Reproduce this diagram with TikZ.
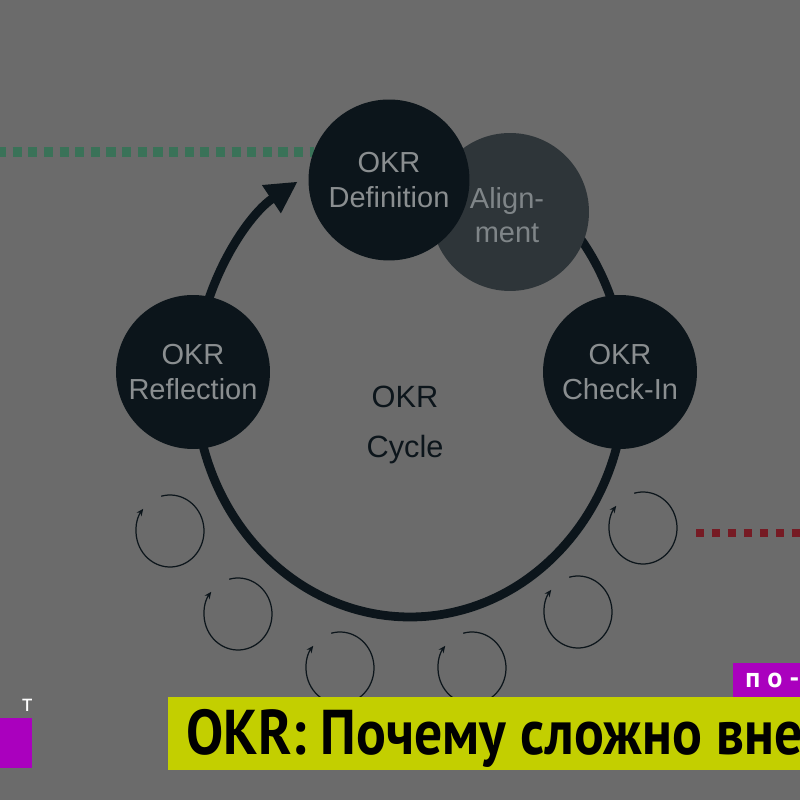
\documentclass[tikz,border=0pt]{standalone}
\usepackage{fontspec}
\setmainfont{Liberation Sans}
\newfontfamily\ptbold{PT Sans}
\usetikzlibrary{arrows.meta}
\definecolor{bg}{HTML}{6B6B6B}
\definecolor{darkc}{HTML}{0C151B}
\definecolor{alignc}{HTML}{2E3539}
\definecolor{ltext}{HTML}{8A8E90}
\definecolor{atext}{HTML}{7F8588}
\definecolor{greendot}{HTML}{3A7258}
\definecolor{reddot}{HTML}{761B24}
\definecolor{lime}{HTML}{C3CF00}
\definecolor{magen}{HTML}{AA00BE}
\tikzset{
  bigcirc/.style={circle, fill=darkc, text=ltext, inner sep=0pt, align=center, font=\fontsize{16.5}{19.5}\selectfont},
  loopc/.style={draw=darkc, line width=0.7pt, -{Stealth[length=4pt,width=3.5pt]}},
}
\begin{document}
\begin{tikzpicture}[x=0.02cm,y=0.02cm]
\useasboundingbox (0,0) rectangle (800,800);
\clip (0,0) rectangle (800,800);
\fill[bg] (0,0) rectangle (800,800);
% dotted lines
\coordinate (g0) at (-3,648);
\coordinate (g1) at (314,648);
\draw[greendot, line width=5.2pt, dash pattern=on 5.2pt off 3.7pt] (g0) -- (g1);
\coordinate (r0) at (696,267);
\coordinate (r1) at (805,267);
\draw[reddot, line width=4.4pt, dash pattern=on 4.4pt off 4.7pt] (r0) -- (r1);
% ring
\coordinate (ringc) at (410,418);
\draw[darkc, line width=5pt, -{Triangle[length=18pt,width=18pt]}]
  (ringc) ++(45:215 and 235) arc[start angle=45, end angle=-238.5, x radius=215, y radius=235];
% big circles
\node[circle, fill=alignc, minimum size=3.16cm, inner sep=0pt] (align) at (510,588) {};
\node[text=atext, align=center, font=\fontsize{16.5}{19.5}\selectfont] (aligntxt) at (507,585) {Align-\\ment};
\node[bigcirc, minimum size=3.22cm] (def) at (389,620) {OKR\\Definition};
\node[bigcirc, minimum size=3.08cm] (refl) at (193,428) {OKR\\Reflection};
\node[bigcirc, minimum size=3.08cm] (check) at (620,428) {OKR\\Check-In};
\node[text=darkc, align=center, font=\fontsize{17.5}{28}\selectfont] (cycle) at (405,375) {OKR\\Cycle};
% small loops
\foreach \n/\cx/\cy in {l1/170/269, l2/238/186, l3/340/132, l4/472/132, l5/578/188, l6/643/272}{
  \coordinate (\n) at (\cx,\cy);
  \draw[loopc] (\n) ++(105:34 and 36) arc[start angle=105, end angle=-218, x radius=34, y radius=36];
}
% banner
\node[fill=lime, minimum width=12.64cm, minimum height=1.46cm, inner sep=0pt, anchor=north west] (banner) at (168,103) {};
\node[anchor=base west, inner sep=0pt, font=\ptbold\bfseries\fontsize{36}{40}\selectfont] (title) at (186,45) {\scalebox{0.88}[1]{OKR: Почему сложно внед}};
\node[fill=magen, minimum width=1.34cm, minimum height=0.68cm, inner sep=0pt, anchor=north west] (tag) at (733,137) {};
\node[anchor=base west, inner sep=0pt, text=white, font=\ptbold\bfseries\fontsize{16}{18}\selectfont\addfontfeature{LetterSpace=25}] (tagtxt) at (745,112) {по-};
\node[fill=magen, minimum width=0.64cm, minimum height=1.0cm, inner sep=0pt, anchor=north west] (lbox) at (0,82) {};
\node[anchor=base west, inner sep=0pt, text=white, font=\ptbold\fontsize{14}{16}\selectfont] (ltxt) at (22,88) {т};
\end{tikzpicture}
\end{document}
